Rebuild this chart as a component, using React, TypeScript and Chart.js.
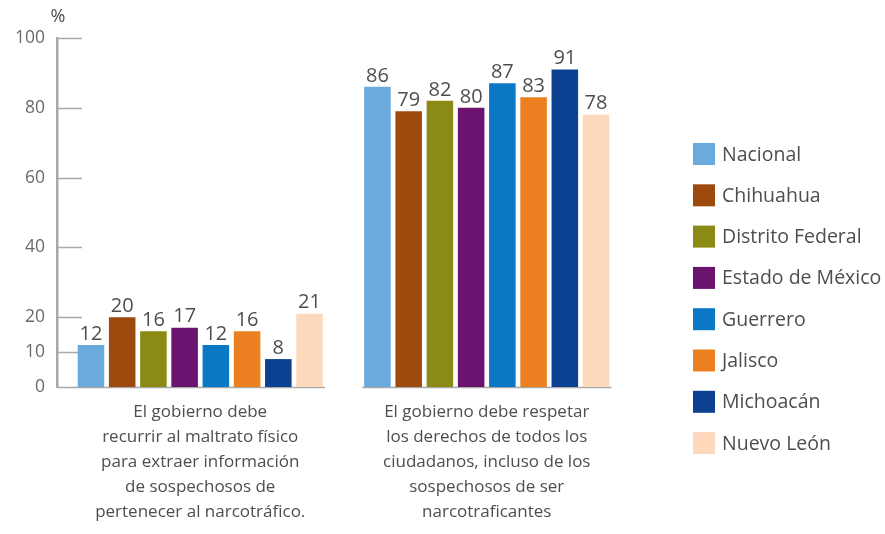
import React, { useEffect, useRef } from "react";
import { Chart, registerables } from "chart.js";

Chart.register(...registerables);

const categories: string[][] = [
  [
    "El gobierno debe",
    "recurrir al maltrato físico",
    "para extraer información",
    "de sospechosos de",
    "pertenecer al narcotráfico.",
  ],
  [
    "El gobierno debe respetar",
    "los derechos de todos los",
    "ciudadanos, incluso de los",
    "sospechosos de ser",
    "narcotraficantes",
  ],
];

const seriesNames = [
  "Nacional",
  "Chihuahua",
  "Distrito Federal",
  "Estado de México",
  "Guerrero",
  "Jalisco",
  "Michoacán",
  "Nuevo León",
];

const nacional = [12, 86];
const chihuahua = [20, 79];
const distritoFederal = [16, 82];
const estadoDeMexico = [17, 80];
const guerrero = [12, 87];
const jalisco = [16, 83];
const michoacan = [8, 91];
const nuevoLeon = [21, 78];

const seriesValues = [
  nacional,
  chihuahua,
  distritoFederal,
  estadoDeMexico,
  guerrero,
  jalisco,
  michoacan,
  nuevoLeon,
];

const yTickValues = [0, 10, 20, 40, 60, 80, 100];
const yUnit = "%";

const seriesColors = [
  "#6aaadc",
  "#9e4a0e",
  "#8a8a14",
  "#6a1470",
  "#0a78c4",
  "#ec8020",
  "#0c4090",
  "#fcd8bc",
];

const FONT = "'Open Sans', 'Noto Sans', sans-serif";
const TEXT = "#4e4e4e";
const AXIS = "#a8a8a8";

const decorPlugin = {
  id: "decor",
  beforeDatasetsDraw(chart: any) {
    const { ctx, chartArea, scales } = chart;
    const y = scales.y;
    ctx.save();
    ctx.strokeStyle = AXIS;
    ctx.lineWidth = 1.5;
    yTickValues.forEach((v) => {
      if (v === 0) return;
      const py = Math.round(y.getPixelForValue(v)) + 0.5;
      ctx.beginPath();
      ctx.moveTo(chartArea.left, py);
      ctx.lineTo(chartArea.left + 25, py);
      ctx.stroke();
    });
    const n = chart.data.datasets.length;
    const first = chart.getDatasetMeta(0);
    const last = chart.getDatasetMeta(n - 1);
    const by = Math.round(y.getPixelForValue(0)) + 0.5;
    categories.forEach((_, i) => {
      const a: any = first.data[i];
      const b: any = last.data[i];
      let x0 = a.x - a.width / 2 - 2;
      const x1 = b.x + b.width / 2 + 2;
      if (i === 0) x0 = chartArea.left;
      ctx.beginPath();
      ctx.moveTo(x0, by);
      ctx.lineTo(x1, by);
      ctx.stroke();
    });
    ctx.restore();
  },
  afterDatasetsDraw(chart: any) {
    const { ctx, chartArea } = chart;
    ctx.save();
    ctx.fillStyle = TEXT;
    ctx.font = `20px ${FONT}`;
    ctx.textAlign = "center";
    ctx.textBaseline = "middle";
    chart.data.datasets.forEach((ds: any, di: number) => {
      const meta = chart.getDatasetMeta(di);
      meta.data.forEach((el: any, i: number) => {
        ctx.fillText(String(ds.data[i]), el.x, el.y - 11);
      });
    });
    ctx.font = `18px ${FONT}`;
    ctx.fillText(yUnit, chartArea.left + 1, 17);
    const boxX = 693;
    const boxTop = 143;
    const step = 41.3;
    const box = 22;
    ctx.textAlign = "left";
    ctx.font = `19.5px ${FONT}`;
    chart.data.datasets.forEach((ds: any, di: number) => {
      const top = boxTop + di * step;
      ctx.fillStyle = ds.backgroundColor;
      ctx.fillRect(boxX, top, box, box);
      ctx.fillStyle = TEXT;
      ctx.fillText(ds.label, boxX + 29, top + box / 2 + 1);
    });
    ctx.restore();
  },
};

export default function App() {
  const ref = useRef<HTMLCanvasElement | null>(null);

  useEffect(() => {
    if (!ref.current) return;
    const chart = new Chart(ref.current, {
      type: "bar",
      data: {
        labels: categories,
        datasets: seriesNames.map((name, i) => ({
          label: name,
          data: seriesValues[i],
          backgroundColor: seriesColors[i],
          borderWidth: 0,
          categoryPercentage: 0.872,
          barPercentage: 0.85,
        })),
      },
      options: {
        responsive: false,
        maintainAspectRatio: false,
        animation: false,
        layout: { padding: { top: 38, right: 255, bottom: 0, left: 0 } },
        plugins: {
          legend: { display: false },
          tooltip: { enabled: false },
        },
        scales: {
          x: {
            grid: { display: false, drawTicks: false },
            border: { display: false },
            ticks: {
              color: TEXT,
              font: { family: FONT, size: 17, lineHeight: 25 / 17 },
              padding: 13,
              maxRotation: 0,
              autoSkip: false,
            },
            afterFit(scale: any) {
              scale.height = 147;
            },
          },
          y: {
            min: 0,
            max: 100,
            grid: { display: false, drawTicks: false },
            border: { display: true, color: AXIS, width: 2.5 },
            ticks: {
              color: "#6a6a6a",
              font: { family: FONT, size: 17.5 },
              padding: 12,
            },
            afterBuildTicks(scale: any) {
              scale.ticks = yTickValues.map((v) => ({ value: v }));
            },
            afterFit(scale: any) {
              scale.width = 57;
            },
          },
        },
      },
      plugins: [decorPlugin],
    });
    return () => chart.destroy();
  }, []);

  return (
    <div style={{ position: "absolute", left: 0, top: 0, width: 885, height: 534, background: "#fff" }}>
      <canvas ref={ref} width={885} height={534} style={{ width: 885, height: 534, display: "block" }} />
    </div>
  );
}
